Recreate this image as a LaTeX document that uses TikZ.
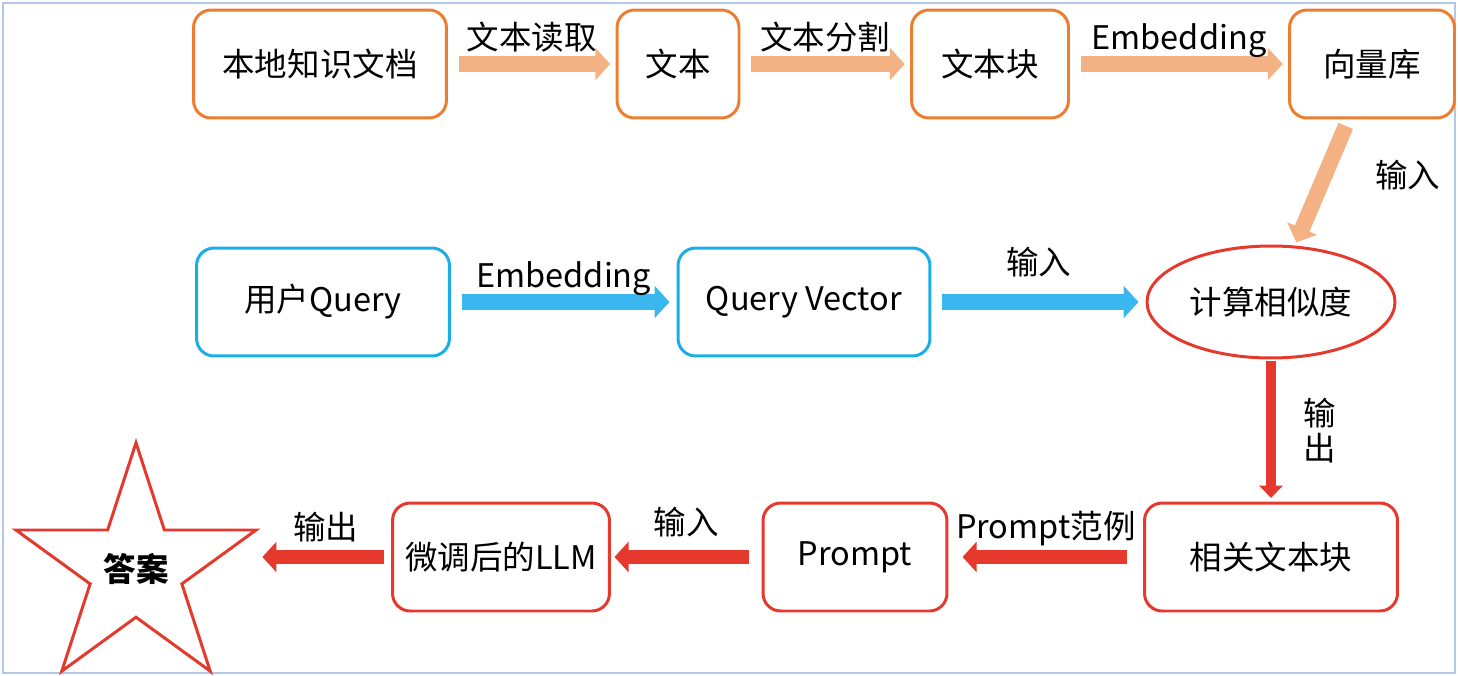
\documentclass[tikz,border=0pt]{standalone}
\usepackage{fontspec}
\setmainfont{Noto Sans CJK SC}
\usetikzlibrary{arrows.meta,shapes.geometric,positioning}
\definecolor{boxorange}{HTML}{ED7D31}
\definecolor{arrorange}{HTML}{F4B183}
\definecolor{boxblue}{HTML}{1BADE8}
\definecolor{arrblue}{HTML}{3BB7EF}
\definecolor{boxred}{HTML}{E5392D}
\definecolor{framecol}{HTML}{B4C7E7}

\begin{document}
\begin{tikzpicture}[x=0.02cm,y=-0.02cm,font=\fontsize{18.5}{20}\selectfont,
    lbl/.style={inner sep=1pt,text height=0.8em,text depth=0.2em}]
    \tikzstyle{box}=[rectangle,rounded corners=10pt,line width=1.7pt,
      minimum height=2.16cm,inner sep=2pt]
    \tikzstyle{orbox}=[box,draw=boxorange]
    \tikzstyle{blbox}=[box,draw=boxblue]
    \tikzstyle{rdbox}=[box,draw=boxred]
    \tikzstyle{fat}=[-{Triangle[length=8.5pt,width=18pt]},line width=9pt]
    \tikzstyle{orarrow}=[fat,draw=arrorange,shorten <=6pt,shorten >=3pt]
    \tikzstyle{blarrow}=[fat,draw=arrblue,shorten <=6pt,shorten >=4pt]
    \tikzstyle{rdarrow}=[-{Triangle[length=8pt,width=17pt]},line width=8pt,
      draw=boxred,shorten <=9pt,shorten >=8pt]

    \useasboundingbox (0,0) rectangle (1458,676);
    \draw[framecol,line width=1pt] (3,3) rectangle (1455,673);

    % knowledge base side
    \node[orbox,minimum width=5.06cm] (doc)   at (320,64)  {本地知识文档};
    \node[orbox,minimum width=2.44cm] (txt)   at (678,64)  {文本};
    \node[orbox,minimum width=3.14cm] (chunk) at (990,64)  {文本块};
    \node[orbox,minimum width=3.3cm]  (db)    at (1372,64) {向量库};

    % query side
    \node[blbox,minimum width=5.06cm] (query) at (323,302) {用户Query};
    \node[blbox,minimum width=5.04cm] (qvec)  at (804,302) {Query Vector};
    \node[ellipse,draw=boxred,line width=1.7pt,minimum width=4.96cm,
      minimum height=2.24cm]          (sim)   at (1271,302) {计算相似度};

    % answer side
    \node[rdbox,minimum width=5.06cm] (rel)   at (1271,557) {相关文本块};
    \node[rdbox,minimum width=3.68cm] (prompt) at (855,557) {Prompt};
    \node[rdbox,minimum width=4.34cm] (llm)   at (501,557) {微调后的LLM};
    \node[star,star points=5,star point ratio=2.618,minimum size=5.05cm,
      draw=boxred,line width=1.7pt,inner sep=0pt] (ans) at (136,569)
      {\bfseries 答案};
    \coordinate (anstip) at (ans.outer point 5 |- llm);

    \path (doc)    edge[orarrow] node[lbl,above=0.5pt] {文本读取}  (txt)
          (txt)    edge[orarrow] node[lbl,above=0.5pt] {文本分割}  (chunk)
          (chunk)  edge[orarrow] node[lbl,above=0.5pt] {Embedding} (db)
          (db)     edge[orarrow,shorten <=4pt,shorten >=2pt]
                                 node[lbl,right=25pt] {输入}      (sim)
          (query)  edge[blarrow] node[lbl,above=0.5pt] {Embedding} (qvec)
          (qvec)   edge[blarrow] node[lbl,above=8pt]   {输入}      (sim)
          (sim)    edge[-{Triangle[length=7pt,width=13pt]},line width=5.5pt,
                        draw=boxred,shorten <=1pt,shorten >=2pt]
                                 node[right=15pt,inner sep=1pt,align=center] {输\\出} (rel)
          (rel)    edge[rdarrow] node[lbl,above=3.5pt] {Prompt范例} (prompt)
          (prompt) edge[rdarrow,shorten <=7pt,shorten >=2pt]
                                 node[lbl,above=6pt]   {输入}      (llm)
          (llm)    edge[rdarrow,shorten <=4pt,shorten >=1pt]
                                 node[lbl,above=3pt]   {输出}      (anstip);
\end{tikzpicture}
\end{document}
